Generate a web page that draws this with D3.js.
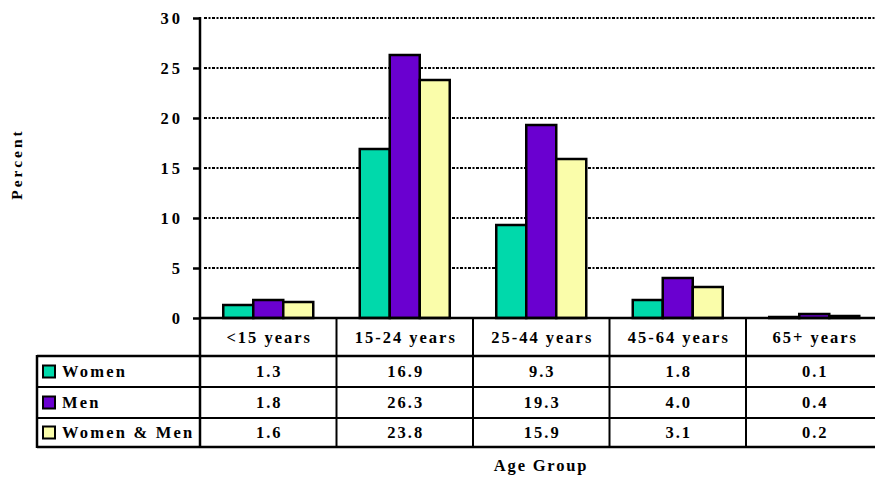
<!DOCTYPE html>
<html>
<head>
<meta charset="utf-8">
<script src="https://cdn.jsdelivr.net/npm/d3@7"></script>
<style>
  html, body { margin: 0; padding: 0; background: #fff; }
  svg text { font-family: "Liberation Serif", "Times New Roman", serif; font-weight: bold; fill: #000; }
</style>
</head>
<body>
<svg id="chart" width="875" height="477"></svg>
<script>
// Age groups and the share (percent) for each series
const categories = ["<15 years", "15-24 years", "25-44 years", "45-64 years", "65+ years"];
const seriesNames = ["Women", "Men", "Women & Men"];
const women = [1.3, 16.9, 9.3, 1.8, 0.1];
const men = [1.8, 26.3, 19.3, 4.0, 0.4];
const womenAndMen = [1.6, 23.8, 15.9, 3.1, 0.2];
const yTicks = [0, 5, 10, 15, 20, 25, 30];
const colors = ["#00d9ab", "#6a00d0", "#fafdaa"];

const seriesValues = [women, men, womenAndMen];

const svg = d3.select("#chart");
const W = 875;
const FS = 16.5; // label font size
const LS = 2;    // letter spacing used by the table labels

const plotLeft = 200, plotRight = 882.5, plotTop = 18, plotBottom = 318;

const x = d3.scaleBand().domain(categories).range([plotLeft, plotRight]).paddingInner(0).paddingOuter(0);
const xs = d3.scaleBand().domain(seriesNames).range([0, x.bandwidth()]).paddingInner(0).paddingOuter(0.775);
const y = d3.scaleLinear().domain([0, 30]).range([plotBottom, plotTop]);

// Horizontal gridlines
svg.append("g")
  .selectAll("line")
  .data(yTicks.filter(t => t > 0))
  .join("line")
  .attr("x1", plotLeft + 4).attr("x2", W)
  .attr("y1", d => y(d)).attr("y2", d => y(d))
  .attr("stroke", "#000")
  .attr("stroke-width", 1.8)
  .attr("stroke-dasharray", "3,1.5,2,1.5");

// Y axis with outward ticks
const yAxis = d3.axisLeft(y).tickValues(yTicks).tickSize(7).tickPadding(10).tickFormat(d3.format("d"));
const yg = svg.append("g").attr("transform", `translate(${plotLeft},0)`).call(yAxis);
yg.select(".domain").remove();
yg.selectAll(".tick line").attr("stroke", "#000").attr("stroke-width", 2.5);
yg.selectAll(".tick text")
  .attr("font-family", "Liberation Serif, serif")
  .attr("font-weight", "bold")
  .attr("font-size", FS)
  .style("letter-spacing", "3px")
  .attr("dy", "0.34em");

// Bars
const rows = categories.map((c, i) => seriesNames.map((s, j) => ({ cat: c, series: s, value: seriesValues[j][i], j })));
svg.append("g")
  .selectAll("g")
  .data(rows)
  .join("g")
  .attr("transform", d => `translate(${x(d[0].cat)},0)`)
  .selectAll("rect")
  .data(d => d)
  .join("rect")
  .attr("x", d => xs(d.series))
  .attr("width", xs.bandwidth())
  .attr("y", d => y(d.value))
  .attr("height", d => y(0) - y(d.value))
  .attr("fill", d => colors[d.j])
  .attr("stroke", "#000")
  .attr("stroke-width", 2.5);

// Data table beneath the plot
const headerBottom = 356;
const rowEdges = [356, 387, 418, 447];
const tableLeft = 37;
const lines = svg.append("g").attr("stroke", "#000");

// baseline / header top
lines.append("line").attr("x1", plotLeft - 1).attr("x2", W).attr("y1", plotBottom).attr("y2", plotBottom).attr("stroke-width", 2.5);
rowEdges.forEach((ry, i) => {
  lines.append("line").attr("x1", tableLeft).attr("x2", W).attr("y1", ry).attr("y2", ry)
    .attr("stroke-width", i === 0 || i === rowEdges.length - 1 ? 2.5 : 2);
});
// y axis line running down through the table
lines.append("line").attr("x1", plotLeft).attr("x2", plotLeft).attr("y1", plotTop - 1).attr("y2", rowEdges[3] + 1).attr("stroke-width", 2.5);
lines.append("line").attr("x1", tableLeft).attr("x2", tableLeft).attr("y1", rowEdges[0] - 1).attr("y2", rowEdges[3] + 1).attr("stroke-width", 2.5);
categories.slice(1).forEach(c => {
  lines.append("line").attr("x1", x(c)).attr("x2", x(c)).attr("y1", plotBottom).attr("y2", rowEdges[3]).attr("stroke-width", 2);
});

// Category headers
svg.append("g").selectAll("text")
  .data(categories)
  .join("text")
  .attr("x", d => x(d) + x.bandwidth() / 2 + LS / 2)
  .attr("y", (plotBottom + headerBottom) / 2)
  .attr("dy", "0.35em")
  .attr("text-anchor", "middle")
  .attr("font-size", FS)
  .style("letter-spacing", LS + "px")
  .text(d => d);

// Value cells
seriesNames.forEach((s, j) => {
  const cy = (rowEdges[j] + rowEdges[j + 1]) / 2;
  svg.append("g").selectAll("text")
    .data(seriesValues[j])
    .join("text")
    .attr("x", (d, i) => x(categories[i]) + x.bandwidth() / 2 + LS / 2)
    .attr("y", cy)
    .attr("dy", "0.35em")
    .attr("text-anchor", "middle")
    .attr("font-size", FS)
    .style("letter-spacing", LS + "px")
    .text(d => d.toFixed(1));

  // legend key for the row
  svg.append("rect")
    .attr("x", 43).attr("y", cy - 6)
    .attr("width", 12).attr("height", 12)
    .attr("fill", colors[j]).attr("stroke", "#000").attr("stroke-width", 2);
  svg.append("text")
    .attr("x", 62).attr("y", cy)
    .attr("dy", "0.35em")
    .attr("font-size", FS)
    .style("letter-spacing", "2.2px")
    .text(s);
});

// Axis titles
svg.append("text")
  .attr("transform", `translate(22,${(plotTop + plotBottom) / 2 - 4}) rotate(-90)`)
  .attr("text-anchor", "middle")
  .attr("font-size", 15.5)
  .style("letter-spacing", "3px")
  .text("Percent");

svg.append("text")
  .attr("x", 541)
  .attr("y", 471)
  .attr("text-anchor", "middle")
  .attr("font-size", FS)
  .style("letter-spacing", "1.8px")
  .text("Age Group");
</script>
</body>
</html>
